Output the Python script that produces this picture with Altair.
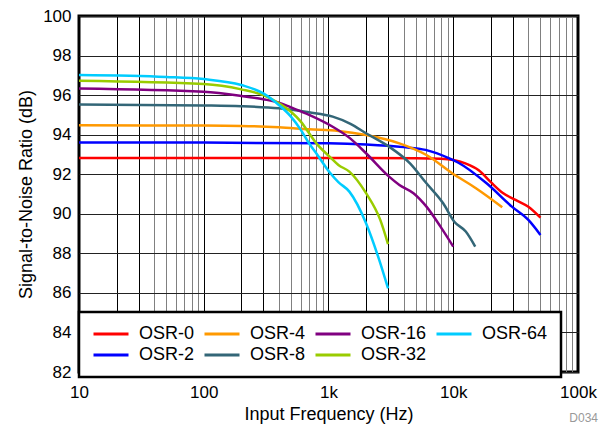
import altair as alt
import pandas as pd

# ---------------- data ----------------
freq_osr0 = [10, 100, 1000, 5000, 8000, 10000, 12500, 16000, 20000, 25000, 31600, 40000, 50000]
snr_osr0 = [92.82, 92.82, 92.82, 92.81, 92.78, 92.72, 92.55, 92.2, 91.6, 91.05, 90.7, 90.35, 89.8]

freq_osr2 = [10, 100, 1000, 2000, 4000, 6000, 9300, 11000, 18500, 29500, 40000, 50000]
snr_osr2 = [93.6, 93.6, 93.56, 93.5, 93.37, 93.23, 92.8, 92.58, 91.54, 90.36, 89.69, 88.93]

freq_osr4 = [10, 100, 200, 400, 700, 1200, 2000, 3700, 6100, 9800, 15200, 24700]
snr_osr4 = [94.47, 94.46, 94.44, 94.37, 94.27, 94.19, 93.98, 93.56, 92.97, 92.05, 91.29, 90.33]

freq_osr8 = [10, 100, 200, 400, 700, 1080, 1500, 2000, 3060, 4500, 6100, 8300, 10200, 12600, 15000]
snr_osr8 = [95.53, 95.48, 95.44, 95.33, 95.13, 94.91, 94.55, 94.07, 93.39, 92.55, 91.54, 90.53, 89.6, 89.1, 88.34]

freq_osr16 = [10, 100, 200, 300, 400, 500, 700, 1080, 1500, 2000, 3060, 3700, 4800, 6100, 7900, 10000]
snr_osr16 = [96.34, 96.17, 95.96, 95.79, 95.62, 95.38, 95.0, 94.4, 93.8, 93.06, 91.88, 91.46, 91.04, 90.36, 89.35, 88.34]

freq_osr32 = [10, 100, 200, 300, 400, 500, 600, 700, 800, 1020, 1200, 1470, 2000, 2600, 3000]
snr_osr32 = [96.73, 96.56, 96.29, 96.0, 95.59, 95.16, 94.66, 94.07, 93.56, 92.89, 92.47, 92.13, 91.04, 89.69, 88.47]

freq_osr64 = [10, 50, 100, 200, 300, 400, 500, 600, 700, 800, 1020, 1200, 1470, 2000, 2500, 3000]
snr_osr64 = [97.02, 96.92, 96.81, 96.51, 96.09, 95.5, 94.91, 94.24, 93.55, 93.05, 92.1, 91.6, 91.12, 89.52, 87.83, 86.23]

series_names = ["OSR-0", "OSR-2", "OSR-4", "OSR-8", "OSR-16", "OSR-32", "OSR-64"]
series_colors = ["#ff0000", "#0000ff", "#ff9900", "#336677", "#800080", "#99cc00", "#00ccff"]
series_freqs = [freq_osr0, freq_osr2, freq_osr4, freq_osr8, freq_osr16, freq_osr32, freq_osr64]
series_snrs = [snr_osr0, snr_osr2, snr_osr4, snr_osr8, snr_osr16, snr_osr32, snr_osr64]

x_grid_values = [m * 10 ** e for e in range(1, 5) for m in range(1, 10)] + [100000]
y_tick_values = [82, 84, 86, 88, 90, 92, 94, 96, 98, 100]

rows = []
for name, fs, ss in zip(series_names, series_freqs, series_snrs):
    for f, s in zip(fs, ss):
        rows.append({"Series": name, "freq": f, "snr": s})
df = pd.DataFrame(rows)

FONT = "Liberation Sans"

x_axis = alt.Axis(
    values=x_grid_values,
    labelExpr="datum.value == 10 ? '10' : datum.value == 100 ? '100' : datum.value == 1000 ? '1k' : "
              "datum.value == 10000 ? '10k' : datum.value == 100000 ? '100k' : ''",
    grid=True,
    gridColor={"condition": {"test": "indexof([10,20,30,100,200,300,1000,2000,3000,10000,20000,30000,100000], datum.value) >= 0",
                             "value": "#000000"},
               "value": "#808080"},
    gridWidth=1,
    ticks=False,
    domain=False,
    labelFontSize=17,
    labelColor="black",
    labelPadding=12,
    labelFlush=False,
    labelOverlap=False,
    title="Input Frequency (Hz)",
    titleFontSize=18,
    titleFontWeight="normal",
    titleColor="black",
    titlePadding=5,
)

y_axis = alt.Axis(
    values=y_tick_values,
    grid=True,
    gridColor="#222222",
    gridWidth=1,
    ticks=False,
    domain=False,
    labelFontSize=17,
    labelColor="black",
    labelPadding=8,
    title="Signal-to-Noise Ratio (dB)",
    titleFontSize=18,
    titleFontWeight="normal",
    titleColor="black",
    titlePadding=7,
)

legend = alt.Legend(
    title=None,
    orient="none",
    legendX=0,
    legendY=296,
    columns=4,
    symbolType="stroke",
    symbolSize=1225,
    symbolStrokeWidth=3,
    labelFontSize=18,
    labelColor="black",
    labelOffset=9,
    columnPadding=8,
    rowPadding=3,
    padding=13,
    clipHeight=18,
    fillColor="white",
    strokeColor="black",
)

lines = alt.Chart(df).mark_line(strokeWidth=2.5, interpolate="monotone").encode(
    x=alt.X("freq:Q", scale=alt.Scale(type="log", domain=[10, 100000], nice=False), axis=x_axis),
    y=alt.Y("snr:Q", scale=alt.Scale(domain=[82, 100], nice=False, zero=False), axis=y_axis),
    color=alt.Color("Series:N", sort=series_names,
                    scale=alt.Scale(domain=series_names, range=series_colors), legend=legend),
)

tag = alt.Chart(pd.DataFrame({"t": ["D034"]})).mark_text(
    fontSize=12, color="#999999", align="right", baseline="middle", font=FONT
).encode(text="t:N", x=alt.value(519), y=alt.value(402))

chart = alt.layer(lines, tag).properties(
    width=499,
    height=356,
    autosize=alt.AutoSizeParams(type="none"),
    padding={"left": 71, "top": 8, "right": 21, "bottom": 52},
).configure(font=FONT).configure_view(
    stroke="black", strokeWidth=3
).configure_legend(strokeWidth=2.5)

chart.save("out.html", embed_options={"renderer": "svg", "actions": False})
